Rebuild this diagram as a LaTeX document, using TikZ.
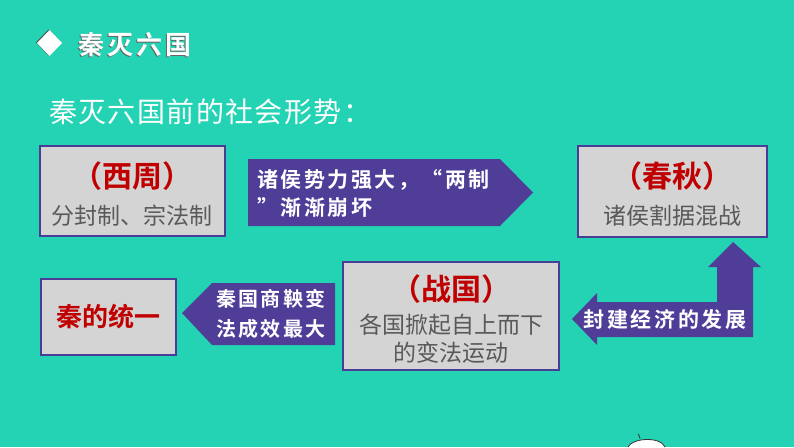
\documentclass[tikz,border=0pt]{standalone}
\usepackage{fontspec}
\newfontfamily\cjk[BoldFont={Noto Sans CJK SC Bold}]{Noto Sans CJK SC}
\newfontfamily\cjksp[LetterSpace=12,BoldFont={Noto Sans CJK SC Bold}]{Noto Sans CJK SC}
\newfontfamily\cjkmid[LetterSpace=5,BoldFont={Noto Sans CJK SC Bold}]{Noto Sans CJK SC}
\definecolor{bgteal}{RGB}{36,211,180}
\definecolor{arrowpurple}{RGB}{79,61,151}
\definecolor{boxborder}{RGB}{74,61,150}
\definecolor{boxfill}{RGB}{212,212,212}
\definecolor{titlered}{RGB}{192,0,0}
\definecolor{subgray}{RGB}{89,89,89}
\tikzset{
  infobox/.style={draw=boxborder, line width=2pt, fill=boxfill, inner sep=0pt},
  boxtitle/.style={text=titlered, font=\cjk\bfseries\fontsize{30}{34}\selectfont},
  boxsub/.style={text=subgray, font=\cjk\fontsize{23}{28}\selectfont, align=center},
  arrowshape/.style={fill=arrowpurple, draw=none},
  arrowtext/.style={text=white, font=\cjksp\bfseries\fontsize{21}{28}\selectfont, align=left, inner sep=0pt},
}
\begin{document}
\begin{tikzpicture}[x=1pt,y=-1pt]
\useasboundingbox (0,0) rectangle (794,447);
\fill[bgteal] (0,0) rectangle (794,447);

% bullet diamond and header
\fill[black!70] (48.5,29.5) -- (61,42.5) -- (48.5,55.5) -- (36,42.5) -- cycle;
\fill[white] (49.5,30) -- (62,43) -- (49.5,56) -- (37,43) -- cycle;
\node[text=black!60, font=\cjksp\bfseries\fontsize{26}{28}\selectfont, anchor=west, inner sep=0pt] (headshadow) at (77,46) {秦灭六国};
\node[text=white, font=\cjksp\bfseries\fontsize{26}{28}\selectfont, anchor=west, inner sep=0pt] (head) at (78,45) {秦灭六国};

\node[text=white, font=\cjkmid\fontsize{28}{32}\selectfont, anchor=west, inner sep=0pt] (subtitle) at (49,112) {秦灭六国前的社会形势：};

% boxes
\node[infobox, minimum width=185pt, minimum height=90pt] (xizhou) at (132,191) {};
\node[boxtitle] (xizhouT) at (132,176) {（西周）};
\node[boxsub] (xizhouS) at (132,216) {分封制、宗法制};

\node[infobox, minimum width=189pt, minimum height=91pt] (chunqiu) at (672.5,191.5) {};
\node[boxtitle] (chunqiuT) at (672.5,176) {（春秋）};
\node[boxsub] (chunqiuS) at (672.5,216) {诸侯割据混战};

\node[infobox, minimum width=216pt, minimum height=108pt] (zhanguo) at (451,316) {};
\node[boxtitle] (zhanguoT) at (451,289) {（战国）};
\node[boxsub, text width=210pt] (zhanguoS) at (451,339) {各国掀起自上而下\\的变法运动};

\node[infobox, minimum width=135pt, minimum height=76pt] (qin) at (108.5,317) {};
\node[text=titlered, font=\cjk\bfseries\fontsize{26}{30}\selectfont] (qinT) at (108.5,317) {秦的统一};

% arrow 1 (right)
\fill[arrowshape] (248,159) -- (500,159) -- (533,192.5) -- (500,226) -- (248,226) -- cycle;
\node[arrowtext, anchor=west] (a1) at (257,193) {诸侯势力强大，“两制\\”渐渐崩坏};

% arrow 2 (left)
\fill[arrowshape] (182,313) -- (212,283) -- (335,283) -- (335,345) -- (212,345) -- cycle;
\node[arrowtext, anchor=center, font=\cjksp\bfseries\fontsize{20}{30}\selectfont] (a2) at (271,314) {秦国商鞅变\\法成效最大};

% L-shaped arrow
\fill[arrowshape] (572,319) -- (597,293) -- (597,302) -- (717,302) -- (717,267) -- (708,267) -- (733,242) -- (761,267) -- (753,267) -- (753,337) -- (597,337) -- (597,345) -- cycle;
\node[arrowtext, anchor=center] (a3) at (665,320) {封建经济的发展};

% small decoration at the bottom
\fill[white] (628,447) .. controls (632,438) and (660,436) .. (665,447) -- cycle;
\draw[black!80, line width=0.8pt] (628,447) .. controls (632,438) and (660,436) .. (665,447);
\draw[black!80, line width=0.8pt] (640,438.5) .. controls (639,435) .. (638,434);
\end{tikzpicture}
\end{document}
